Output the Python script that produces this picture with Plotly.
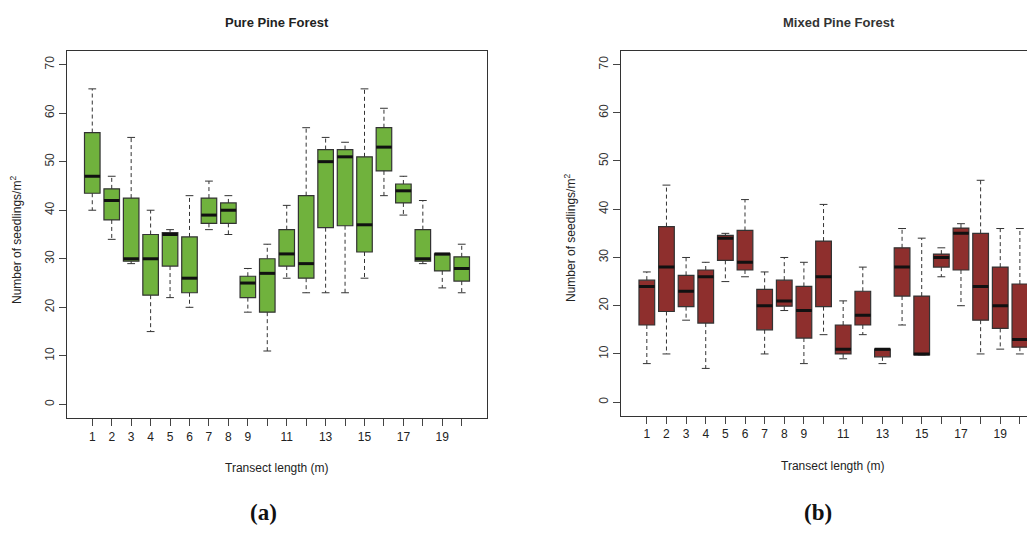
import plotly.graph_objects as go

positions = list(range(1, 21))
labeled_ticks = [1, 2, 3, 4, 5, 6, 7, 8, 9, 11, 13, 15, 17, 19]
unlabeled_ticks = [10, 12, 14, 16, 18, 20]
y_ticks = [0, 10, 20, 30, 40, 50, 60, 70]

# Pure Pine Forest
pure_low = [40, 34, 29, 15, 22, 20, 36, 35, 19, 11, 26, 23, 23, 23, 26, 43, 39, 29, 24, 23]
pure_q1 = [43.5, 38, 29.5, 22.5, 28.5, 23, 37.3, 37.3, 22, 19, 28.5, 26, 36.4, 36.8, 31.4, 48.1, 41.5, 29.5, 27.5, 25.4]
pure_med = [47, 42, 30, 30, 35, 26, 39, 40, 25, 27, 31, 29, 50, 51, 37, 53, 44, 30, 31, 28]
pure_q3 = [56, 44.4, 42.5, 35, 35.4, 34.5, 42.5, 41.5, 26.4, 30, 36, 43, 52.5, 52.5, 51, 57, 45.4, 36, 31, 30.4]
pure_high = [65, 47, 55, 40, 36, 43, 46, 43, 28, 33, 41, 57, 55, 54, 65, 61, 47, 42, 31, 33]

# Mixed Pine Forest
mixed_low = [8, 10, 17, 7, 25, 26, 10, 19, 8, 14, 9, 14, 8, 16, 9.8, 26, 20, 10, 11, 10]
mixed_q1 = [16, 18.8, 19.8, 16.4, 29.4, 27.4, 15, 19.9, 13.3, 19.8, 10, 16, 9.4, 22, 9.8, 28, 27.4, 17, 15.3, 11.4]
mixed_med = [24, 28, 23, 26, 34, 29, 20, 21, 19, 26, 11, 18, 11, 28, 10, 30, 35, 24, 20, 13]
mixed_q3 = [25.3, 36.4, 26.3, 27.4, 34.6, 35.6, 23.4, 25.3, 24, 33.4, 16, 23, 11, 32, 22, 30.7, 36.1, 35, 28, 24.5]
mixed_high = [27, 45, 30, 29, 35, 42, 27, 30, 29, 41, 21, 28, 11, 36, 34, 32, 37, 46, 36, 36]

OFF = 8  # page body margin
W, H = 1035 - OFF, 535 - OFF
FONT = "Liberation Sans, Arial, Helvetica, sans-serif"
EDGE = "#333333"


def px(x):
    return (x - OFF) / W


def py(y):
    return 1 - (y - OFF) / H


def add_panel(fig, xa, ya, low, q1, med, q3, high, fill):
    fig.add_trace(go.Box(
        x=positions, q1=q1, median=med, q3=q3, lowerfence=q1, upperfence=q3,
        width=0.8, whiskerwidth=0, fillcolor=fill,
        line=dict(color=EDGE, width=1.2), xaxis=xa, yaxis=ya,
        showlegend=False, hoverinfo="skip"))
    wx, wy, cx, cy, mx, my = [], [], [], [], [], []
    for p, lo, a, m, b, hi in zip(positions, low, q1, med, q3, high):
        if hi > b:
            wx += [p, p, None]
            wy += [b, hi, None]
        if lo < a:
            wx += [p, p, None]
            wy += [a, lo, None]
        cx += [p - 0.2, p + 0.2, None, p - 0.2, p + 0.2, None]
        cy += [hi, hi, None, lo, lo, None]
        mx += [p - 0.4, p + 0.4, None]
        my += [m, m, None]
    fig.add_trace(go.Scatter(x=wx, y=wy, mode="lines", xaxis=xa, yaxis=ya,
                             line=dict(color=EDGE, width=1, dash="4px,3px"),
                             showlegend=False, hoverinfo="skip"))
    fig.add_trace(go.Scatter(x=cx, y=cy, mode="lines", xaxis=xa, yaxis=ya,
                             line=dict(color=EDGE, width=1),
                             showlegend=False, hoverinfo="skip"))
    fig.add_trace(go.Scatter(x=mx, y=my, mode="lines", xaxis=xa, yaxis=ya,
                             line=dict(color="#111111", width=3),
                             showlegend=False, hoverinfo="skip"))


fig = go.Figure()
add_panel(fig, "x", "y", pure_low, pure_q1, pure_med, pure_q3, pure_high, "#70b23d")
add_panel(fig, "x2", "y2", mixed_low, mixed_q1, mixed_med, mixed_q3, mixed_high, "#8e2f2d")

xcommon = dict(tickmode="array", tickvals=labeled_ticks, ticktext=[str(v) for v in labeled_ticks],
               ticks="outside", ticklen=7,
               tickcolor="#444444", showgrid=False, zeroline=False, showline=True,
               linecolor=EDGE, linewidth=1.3,
               minor=dict(tickmode="array", tickvals=unlabeled_ticks, ticks="outside",
                          ticklen=7, tickcolor="#444444", showgrid=False),
               tickfont=dict(family=FONT, size=12, color="#222222"), fixedrange=True)
ycommon = dict(tickvals=y_ticks, range=[-2.8, 72.8], ticks="outside", ticklen=7,
               tickcolor="#444444", showgrid=False, zeroline=False, showline=True,
               linecolor=EDGE, linewidth=1.3, tickangle=-90,
               tickfont=dict(family=FONT, size=12, color="#333333"), fixedrange=True)

fig.update_layout(
    width=W, height=H,
    margin=dict(l=0, r=0, t=0, b=0),
    paper_bgcolor="white", plot_bgcolor="white",
    xaxis=dict(xcommon, domain=[px(67), px(487)], range=[-0.3, 21.3], mirror=True, anchor="y"),
    yaxis=dict(ycommon, domain=[py(418), py(51)], mirror=True, anchor="x"),
    xaxis2=dict(xcommon, domain=[px(621.3), 1.0], range=[-0.3, 20.77], mirror=True, anchor="y2"),
    yaxis2=dict(ycommon, domain=[py(415.7), py(51)], mirror=False, anchor="x2"),
)

ann = []
def text(x, y, s, size, bold=False, angle=0, family=FONT, color="#222222"):
    ann.append(dict(x=px(x), y=py(y), xref="paper", yref="paper", text=("<b>%s</b>" % s) if bold else s,
                    showarrow=False, textangle=angle, xanchor="center", yanchor="middle",
                    font=dict(family=family, size=size, color=color)))

text(277, 23, "Pure Pine Forest", 13, bold=True)
text(839, 23, "Mixed Pine Forest", 13, bold=True, color="#333333")
text(277, 468, "Transect length (m)", 12)
text(833, 466, "Transect length (m)", 12)
text(16, 240, "Number of seedlings/m<sup>2</sup>", 12, angle=-90)
text(570, 238, "Number of seedlings/m<sup>2</sup>", 12, angle=-90)
text(263, 512, "(a)", 23, bold=True, family="Liberation Serif, DejaVu Serif, serif", color="#111111")
text(818, 512, "(b)", 23, bold=True, family="Liberation Serif, DejaVu Serif, serif", color="#111111")
fig.update_layout(annotations=ann)

fig.write_html("out.html")
